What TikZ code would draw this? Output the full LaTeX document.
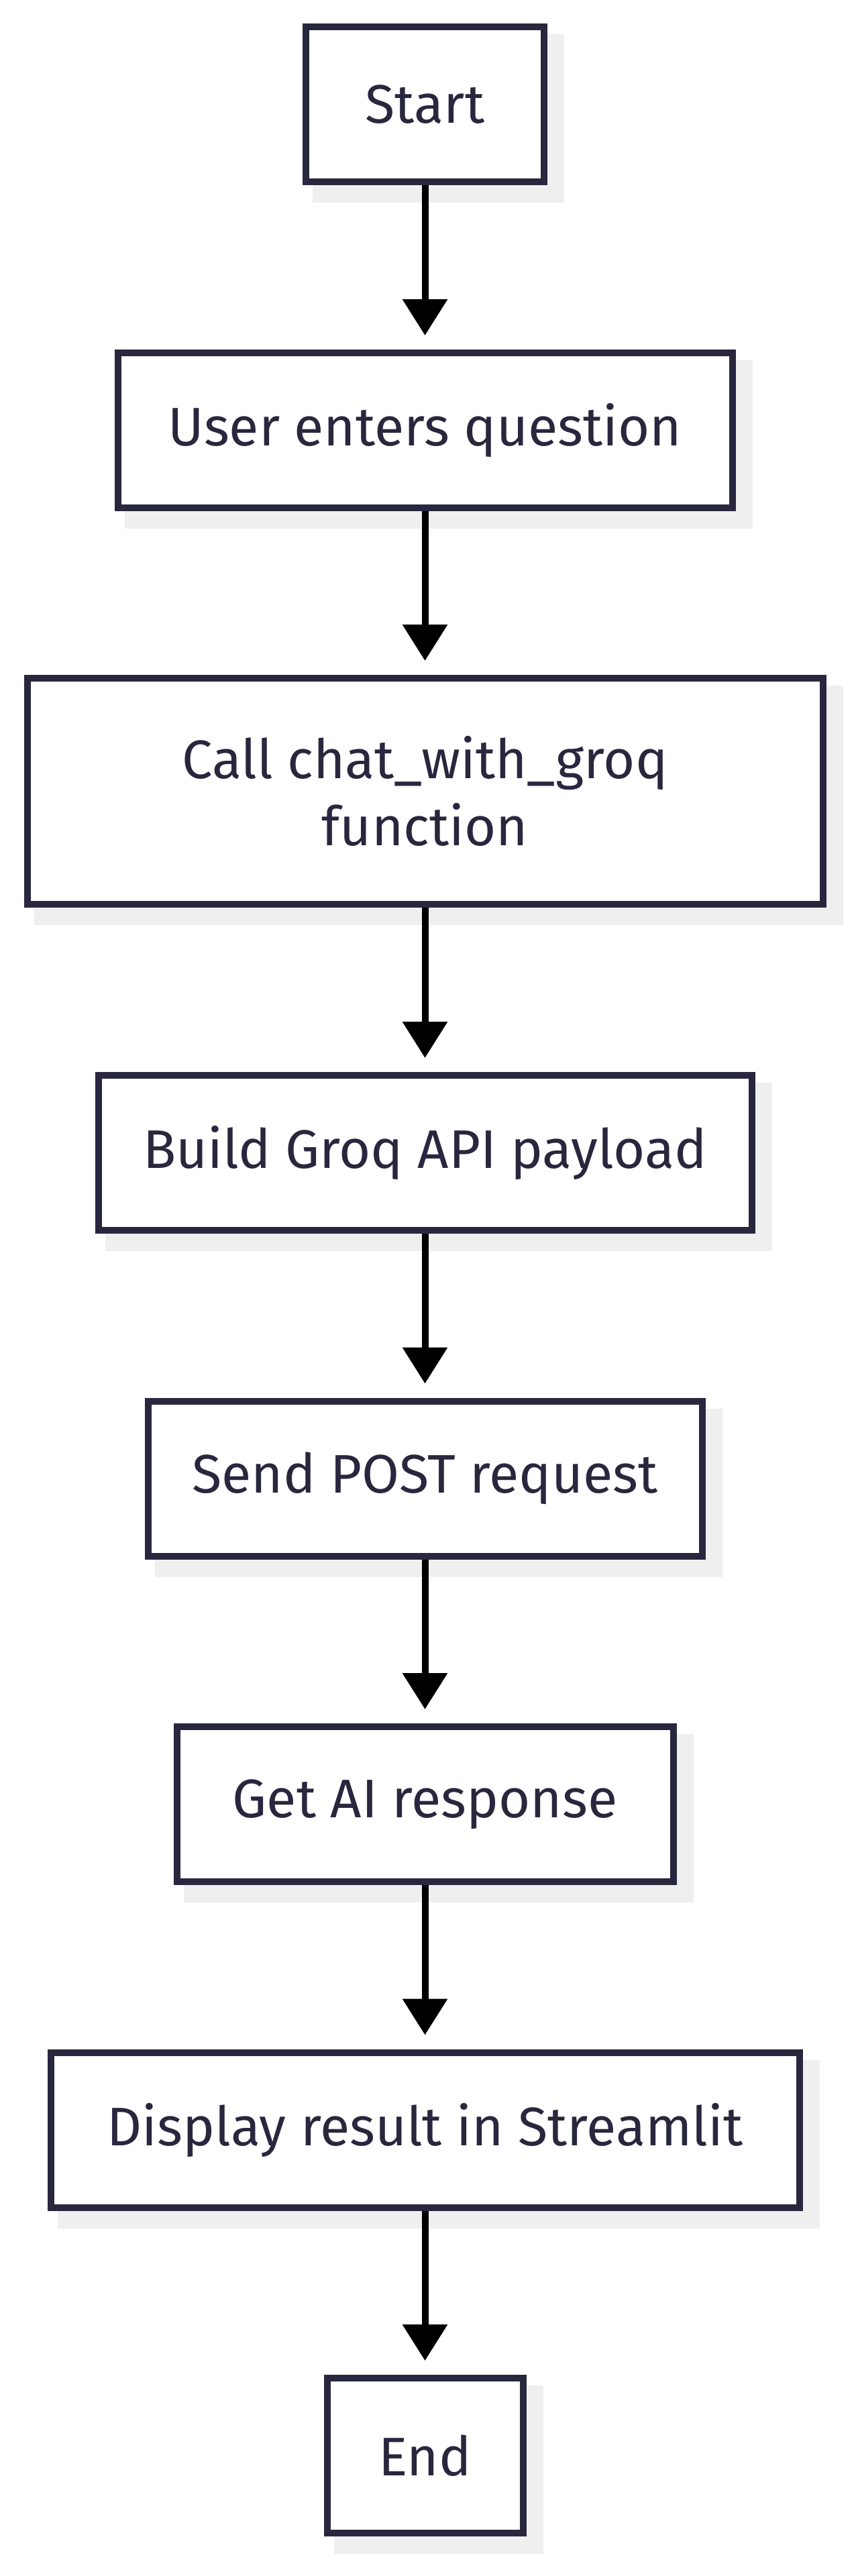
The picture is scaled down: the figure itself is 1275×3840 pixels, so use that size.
\documentclass[tikz,border=0pt]{standalone}
\usepackage{fontspec}
\setmainfont{Fira Sans}
\usetikzlibrary{arrows.meta,backgrounds}
\definecolor{ink}{RGB}{40,39,62}
\definecolor{shade}{RGB}{239,239,239}
\begin{document}
\begin{tikzpicture}[x=0.5pt,y=-0.5pt,
  stepbox/.style={draw=ink, line width=5pt, fill=white, text=ink, minimum height=115.5pt,
    inner sep=0pt, font=\fontsize{40.5}{50}\selectfont, align=center},
  flow/.style={draw=black, line width=5pt, -{Triangle[length=27pt,width=32.5pt]}, shorten >=10.5pt},
  shadowbox/.style={fill=shade, draw=none}]
\useasboundingbox (0,0) rectangle (1275,3840);
\node[stepbox, minimum width=177.5pt] (start) at (633.5,155.5) {Start};
\node[stepbox, minimum width=458pt] (user) at (633.5,641.5) {User enters question};
\node[stepbox, minimum width=593pt, minimum height=168.5pt] (call) at (633.5,1179.5) {Call chat\_with\_groq\\function};
\node[stepbox, minimum width=487pt] (build) at (633.5,1718.5) {Build Groq API payload};
\node[stepbox, minimum width=413pt] (send) at (633.5,2204) {Send POST request};
\node[stepbox, minimum width=370pt] (get) at (633.5,2689.5) {Get AI response};
\node[stepbox, minimum width=558pt] (disp) at (633.5,3175) {Display result in Streamlit};
\node[stepbox, minimum width=146pt] (end) at (633.5,3660.5) {End};
\begin{scope}[on background layer]
\foreach \n in {start,user,call,build,send,get,disp,end}{
  \fill[shadowbox] ([xshift=7.5pt,yshift=-8pt]\n.north west) rectangle ([xshift=12.5pt,yshift=-13pt]\n.south east);
}
\end{scope}
\draw[flow] (start) -- (user);
\draw[flow] (user) -- (call);
\draw[flow] (call) -- (build);
\draw[flow] (build) -- (send);
\draw[flow] (send) -- (get);
\draw[flow] (get) -- (disp);
\draw[flow] (disp) -- (end);
\end{tikzpicture}
\end{document}
